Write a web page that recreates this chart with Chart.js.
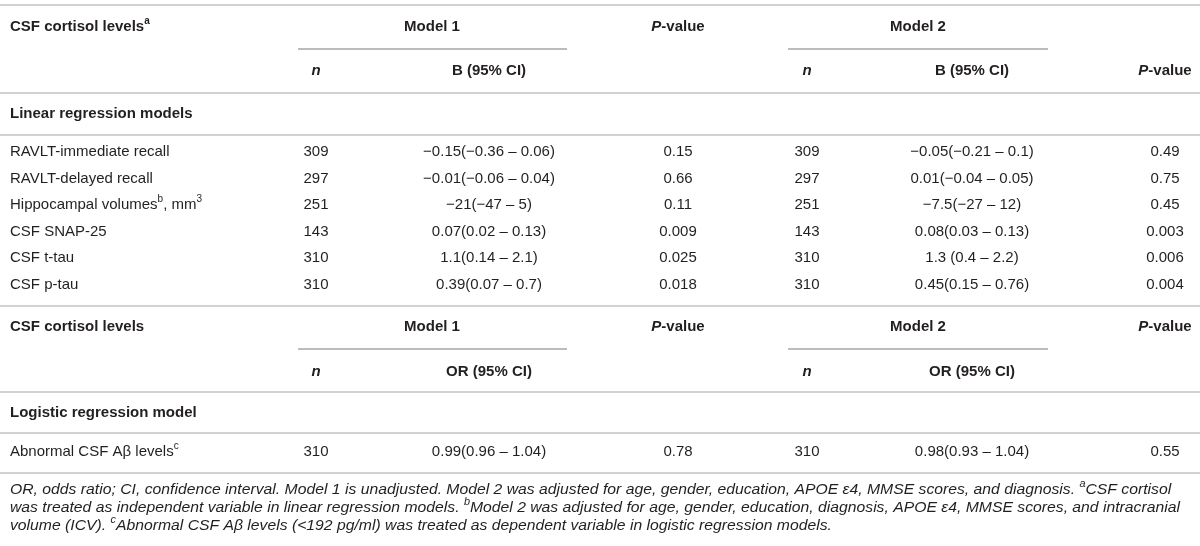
<!DOCTYPE html>
<html>
<head>
<meta charset="utf-8">
<script src="https://cdn.jsdelivr.net/npm/chart.js@4.4.0/dist/chart.umd.min.js"></script>
<style>
  html, body { margin: 0; padding: 0; background: #fff; }
  #wrap { width: 1200px; height: 546px; }
</style>
</head>
<body>
<div id="wrap"><canvas id="tbl"></canvas></div>
<script>
// ── Table data ──
const linearRows = ['RAVLT-immediate recall', 'RAVLT-delayed recall', 'Hippocampal volumes^{b}, mm^{3}', 'CSF SNAP-25', 'CSF t-tau', 'CSF p-tau'];
const model1N = [309, 297, 251, 143, 310, 310];
const model1B = ['−0.15(−0.36 – 0.06)', '−0.01(−0.06 – 0.04)', '−21(−47 – 5)', '0.07(0.02 – 0.13)', '1.1(0.14 – 2.1)', '0.39(0.07 – 0.7)'];
const model1P = ['0.15', '0.66', '0.11', '0.009', '0.025', '0.018'];
const model2N = [309, 297, 251, 143, 310, 310];
const model2B = ['−0.05(−0.21 – 0.1)', '0.01(−0.04 – 0.05)', '−7.5(−27 – 12)', '0.08(0.03 – 0.13)', '1.3 (0.4 – 2.2)', '0.45(0.15 – 0.76)'];
const model2P = ['0.49', '0.75', '0.45', '0.003', '0.006', '0.004'];

const logisticRows = ['Abnormal CSF Aβ levels^{c}'];
const logModel1N = [310];
const logModel1OR = ['0.99(0.96 – 1.04)'];
const logModel1P = ['0.78'];
const logModel2N = [310];
const logModel2OR = ['0.98(0.93 – 1.04)'];
const logModel2P = ['0.55'];

const headTitles = ['CSF cortisol levels^{a}', 'CSF cortisol levels'];
const modelNames = ['Model 1', 'Model 2'];
const pHead = '*P*-value';
const nHead = '*n*';
const effectHeads = ['B (95% CI)', 'OR (95% CI)'];
const sectionNames = ['Linear regression models', 'Logistic regression model'];
const footnotes = [
  'OR, odds ratio; CI, confidence interval. Model 1 is unadjusted. Model 2 was adjusted for age, gender, education, APOE ε4, MMSE scores, and diagnosis. ^{a}CSF cortisol',
  'was treated as independent variable in linear regression models. ^{b}Model 2 was adjusted for age, gender, education, diagnosis, APOE ε4, MMSE scores, and intracranial',
  'volume (ICV). ^{c}Abnormal CSF Aβ levels (<192 pg/ml) was treated as dependent variable in logistic regression models.'
];

// ── Layout (scale units = px of the 1200x546 sheet) ──
const col = { label: 10, n1: 316, b1: 489, p1: 678, n2: 807, b2: 972, p2: 1165, m1: 432, m2: 918 };
const block1 = { title: 27, under: 49, sub: 71, section: 114 };
const block2 = { title: 327, under: 349, sub: 372, section: 413 };
const linearY = [152, 179, 205, 232, 258, 285];
const logisticY = [452];
const footY = [490, 508, 526];
const rules = [5, 93, 135, 306, 392, 433, 473];
const underRules = [[298, 567], [788, 1048]];

const FONT = '"Liberation Sans", Arial, sans-serif';
const INK = '#231f20';

// ── Rich text: *italic*, ^{sup} ──
function parseRich(str){
  const segs = [];
  let italic = false, i = 0, buf = '';
  const push = (sup) => { if(buf){ segs.push({ t: buf, italic, sup }); buf = ''; } };
  while(i < str.length){
    const ch = str[i];
    if(ch === '*'){ push(false); italic = !italic; i++; continue; }
    if(ch === '^' && str[i+1] === '{'){
      push(false);
      const end = str.indexOf('}', i);
      buf = str.slice(i+2, end); push(true);
      i = end + 1; continue;
    }
    buf += ch; i++;
  }
  push(false);
  return segs;
}

function drawRich(ctx, str, x, y, opts){
  const size = opts.size || 15;
  const sx = opts.stretch || 1;
  const weight = opts.bold ? 'bold ' : '';
  const segs = parseRich(str);
  const fontOf = s => ((s.italic || opts.italic) ? 'italic ' : '') + weight + (s.sup ? Math.round(size*0.68) : size) + 'px ' + FONT;
  let total = 0;
  segs.forEach(s => { ctx.font = fontOf(s); s.w = ctx.measureText(s.t).width * sx; total += s.w; });
  let cx = x;
  if(opts.align === 'center') cx = x - total/2;
  else if(opts.align === 'right') cx = x - total;
  ctx.fillStyle = opts.color || INK;
  ctx.textBaseline = 'middle';
  ctx.textAlign = 'left';
  segs.forEach(s => {
    ctx.font = fontOf(s);
    ctx.save();
    ctx.translate(cx, s.sup ? y - size*0.38 : y);
    ctx.scale(sx, 1);
    ctx.fillText(s.t, 0, 0);
    ctx.restore();
    cx += s.w;
  });
}

// ── Text plugin: every cell placed through the chart scales ──
const cellText = {
  id: 'cellText',
  afterDatasetsDraw(chart){
    const { ctx, scales: { x, y } } = chart;
    const X = v => x.getPixelForValue(v);
    const Y = v => y.getPixelForValue(v);
    ctx.save();

    [block1, block2].forEach((b, k) => {
      drawRich(ctx, headTitles[k], X(col.label), Y(b.title), { bold: true, align: 'left' });
      drawRich(ctx, modelNames[0], X(col.m1), Y(b.title), { bold: true, align: 'center' });
      drawRich(ctx, pHead, X(col.p1), Y(b.title), { bold: true, align: 'center' });
      drawRich(ctx, modelNames[1], X(col.m2), Y(b.title), { bold: true, align: 'center' });
      drawRich(ctx, pHead, X(col.p2), Y(k === 0 ? b.sub : b.title), { bold: true, align: 'center' });
      drawRich(ctx, nHead, X(col.n1), Y(b.sub), { bold: true, align: 'center' });
      drawRich(ctx, effectHeads[k], X(col.b1), Y(b.sub), { bold: true, align: 'center' });
      drawRich(ctx, nHead, X(col.n2), Y(b.sub), { bold: true, align: 'center' });
      drawRich(ctx, effectHeads[k], X(col.b2), Y(b.sub), { bold: true, align: 'center' });
      drawRich(ctx, sectionNames[k], X(col.label), Y(b.section), { bold: true, align: 'left' });
    });

    const rowSets = [
      [linearRows, model1N, model1B, model1P, model2N, model2B, model2P, linearY],
      [logisticRows, logModel1N, logModel1OR, logModel1P, logModel2N, logModel2OR, logModel2P, logisticY]
    ];
    rowSets.forEach(([names, n1, b1, p1, n2, b2, p2, ys]) => {
      names.forEach((nm, i) => {
        const yy = Y(ys[i]);
        drawRich(ctx, nm, X(col.label), yy, { align: 'left' });
        drawRich(ctx, String(n1[i]), X(col.n1), yy, { align: 'center' });
        drawRich(ctx, b1[i], X(col.b1), yy, { align: 'center' });
        drawRich(ctx, p1[i], X(col.p1), yy, { align: 'center' });
        drawRich(ctx, String(n2[i]), X(col.n2), yy, { align: 'center' });
        drawRich(ctx, b2[i], X(col.b2), yy, { align: 'center' });
        drawRich(ctx, p2[i], X(col.p2), yy, { align: 'center' });
      });
    });

    footnotes.forEach((f, i) => {
      drawRich(ctx, f, X(col.label), Y(footY[i]), { italic: true, align: 'left', size: 14.5, stretch: 1.085 });
    });
    ctx.restore();
  }
};

// ── Rules as line datasets ──
const ruleSets = rules.map(r => ({
  data: [{ x: 0, y: r }, { x: 1200, y: r }],
  borderColor: '#d2d2d2', borderWidth: 2, pointRadius: 0, fill: false
}));
underRules.forEach(([a, b]) => {
  [block1.under, block2.under].forEach(u => {
    ruleSets.push({
      data: [{ x: a, y: u }, { x: b, y: u }],
      borderColor: '#bcbcbc', borderWidth: 2, pointRadius: 0, fill: false
    });
  });
});

new Chart(document.getElementById('tbl').getContext('2d'), {
  type: 'line',
  data: { datasets: ruleSets },
  options: {
    responsive: true,
    maintainAspectRatio: false,
    animation: false,
    layout: { padding: 0 },
    plugins: { legend: { display: false }, tooltip: { enabled: false } },
    scales: {
      x: { type: 'linear', min: 0, max: 1200, display: false },
      y: { type: 'linear', min: 0, max: 546, reverse: true, display: false }
    }
  },
  plugins: [cellText]
});
</script>
</body>
</html>
